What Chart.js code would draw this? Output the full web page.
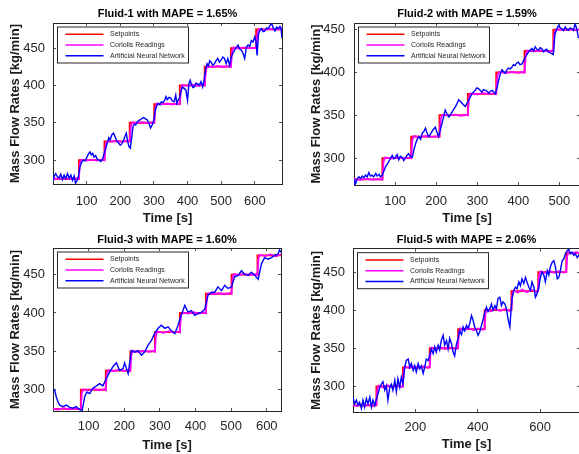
<!DOCTYPE html>
<html>
<head>
<meta charset="utf-8">
<script src="https://cdn.jsdelivr.net/npm/chart.js@4"></script>
<style>
  html, body { margin: 0; padding: 0; background: #fff; overflow: hidden; width: 579px; height: 454px; }
  canvas { position: absolute; }
</style>
</head>
<body>
<canvas id="c1" width="290" height="227" style="left:0;top:0"></canvas>
<canvas id="c2" width="300" height="227" style="left:290px;top:0"></canvas>
<canvas id="c3" width="290" height="227" style="left:0;top:227px"></canvas>
<canvas id="c4" width="300" height="227" style="left:290px;top:227px"></canvas>
<script>
// ---- data (time [s], mass flow [kg/min]) ----
const seriesLabels = ['Setpoints', 'Coriolis Readings', 'Artificial Neural Network'];
const titles = ['Fluid-1 with MAPE = 1.65%', 'Fluid-2 with MAPE = 1.59%', 'Fluid-3 with MAPE = 1.60%', 'Fluid-5 with MAPE = 2.06%'];
const yTicks = [300, 350, 400, 450];
const xTicks1 = [100, 200, 300, 400, 500, 600];
const xTicks2 = [100, 200, 300, 400, 500];
const xTicks3 = [100, 200, 300, 400, 500, 600];
const xTicks4 = [200, 400, 600];

// Fluid-1
const set1 = [[0,275],[77,300],[153,325],[228,350],[301,375],[377,400],[451,425],[529,450],[604,475],[681,475]];
const cor1 = [[0,275.4],[15,274.6],[30,275.8],[45,274.9],[60,275.5],[77,274.8],[80,296],[84,300.6],[100,299.4],[115,300.7],[130,299.2],[145,300.5],[153,299.6],[157,322],[161,325.4],[175,324.6],[190,325.8],[205,324.5],[220,325.6],[228,324.9],[232,346],[236,350.5],[250,349.4],[265,350.8],[280,349.6],[295,350.4],[301,349.7],[305,371],[309,375.6],[325,374.5],[340,375.7],[355,374.4],[370,375.5],[377,374.8],[381,396],[385,400.6],[400,399.3],[415,400.8],[430,399.5],[445,400.6],[451,399.8],[455,421],[459,425.5],[475,424.4],[490,425.9],[505,424.6],[520,425.7],[529,424.8],[533,446],[537,450.6],[555,449.4],[570,450.8],[585,449.5],[600,450.3],[604,449.7],[608,471],[612,475.5],[630,474.3],[645,475.8],[660,474.6],[681,475.4]];
const ann1 = [[0,272],[4,279],[8,282],[13,278],[18,276],[23,281],[28,274],[33,280],[38,275],[43,282],[48,276],[53,280],[58,273],[63,279],[67,269],[71,272],[76,279],[80,291],[85,297],[90,300],[95,299],[100,303],[105,308],[110,311],[114,307],[118,309],[122,304],[127,306],[132,301],[137,300],[142,298],[147,301],[152,309],[157,316],[161,322],[166,330],[170,327],[175,334],[180,336],[185,331],[190,325],[195,323],[200,320],[205,322],[210,327],[215,333],[218,336],[222,325],[226,318],[230,316],[234,330],[238,345],[242,348],[246,347],[250,351],[255,353],[260,354],[265,356],[270,357],[275,355],[280,354],[285,350],[290,343],[295,347],[300,354],[304,367],[308,372],[313,376],[318,374],[322,378],[327,377],[332,380],[336,385],[340,381],[345,384],[350,383],[355,379],[360,378],[365,387],[368,376],[372,380],[376,383],[380,391],[385,398],[390,396],[395,394],[400,380],[404,402],[408,407],[412,401],[416,397],[420,398],[425,403],[430,402],[435,400],[440,405],[445,398],[450,409],[454,422],[458,429],[462,426],[466,433],[470,431],[475,427],[480,429],[485,433],[490,436],[495,431],[500,434],[505,438],[510,436],[515,429],[520,436],[525,427],[530,438],[535,443],[540,447],[545,451],[550,454],[555,449],[560,447],[565,443],[570,436],[575,451],[580,454],[585,452],[590,460],[595,458],[600,465],[604,458],[607,440],[611,469],[616,474],[620,476],[625,472],[630,473],[635,477],[640,476],[645,480],[650,483],[655,477],[660,473],[665,478],[670,476],[675,479],[678,477],[681,463]];

// Fluid-2
const set2 = [[0,275],[69,300],[139,325],[208,350],[277,375],[346,400],[415,425],[485,450],[550,450]];
const cor2 = [[0,275.3],[15,274.5],[30,275.6],[45,274.7],[60,275.4],[69,274.8],[72,296],[76,300.5],[90,299.4],[105,300.6],[120,299.5],[135,300.4],[139,299.7],[142,321],[146,325.6],[160,324.4],[175,325.7],[190,324.6],[204,325.5],[208,324.8],[211,346],[215,350.4],[230,349.5],[245,350.7],[260,349.4],[274,350.5],[277,349.8],[280,371],[284,375.5],[300,374.5],[315,375.8],[330,374.6],[343,375.4],[346,374.9],[349,396],[353,400.4],[370,399.4],[385,400.7],[400,399.6],[412,400.5],[415,399.8],[418,421],[422,425.6],[440,424.5],[455,425.8],[470,424.6],[482,425.3],[485,424.9],[488,446],[492,450.4],[510,449.3],[525,450.6],[540,449.5],[550,450.2]];
const ann2 = [[0,275],[2,269],[4,270],[8,276],[12,278],[16,276],[20,279],[24,277],[28,280],[32,278],[36,283],[40,279],[44,280],[48,278],[53,282],[56,279],[61,281],[64,278],[69,280],[72,284],[77,290],[81,293],[85,296],[89,300],[93,303],[97,299],[101,301],[105,304],[109,298],[113,302],[117,301],[121,297],[125,300],[129,303],[133,305],[137,302],[142,301],[145,308],[150,317],[154,322],[158,325],[162,322],[166,329],[170,331],[174,335],[178,329],[182,325],[186,328],[190,331],[194,334],[198,336],[202,330],[206,325],[210,333],[214,340],[218,348],[222,356],[226,352],[231,348],[235,351],[239,354],[243,357],[247,360],[251,364],[255,368],[259,366],[263,364],[267,362],[271,360],[275,364],[279,368],[283,371],[287,375],[291,377],[295,379],[299,382],[303,381],[307,379],[311,377],[315,380],[320,379],[324,378],[328,376],[332,378],[336,379],[340,377],[344,375],[348,382],[352,391],[356,398],[360,403],[364,401],[368,399],[372,403],[376,405],[380,404],[384,406],[388,409],[392,408],[396,411],[400,412],[404,409],[409,410],[413,414],[417,418],[421,421],[425,424],[429,426],[433,428],[437,425],[441,430],[445,427],[449,426],[453,429],[457,428],[461,424],[465,426],[469,427],[473,424],[477,423],[481,422],[485,421],[489,445],[493,450],[498,455],[502,452],[506,451],[510,449],[514,453],[518,450],[522,449],[526,452],[530,451],[534,449],[538,457],[542,451],[546,441],[550,440]];

// Fluid-3
const set3 = [[0,275],[78,300],[148,325],[217,350],[286,375],[356,400],[429,425],[501,450],[574,475],[640,475]];
const cor3 = [[0,275.2],[15,274.3],[30,275.9],[45,274.6],[60,275.8],[74,274.4],[78,275],[81,296],[85,300.4],[100,299.1],[115,301],[130,299.3],[145,300.8],[148,299.5],[151,321],[155,325.7],[170,324.2],[185,326],[200,324.5],[214,325.8],[217,324.6],[220,346],[224,350.6],[240,349.2],[255,351],[270,349.4],[283,350.7],[286,349.6],[289,371],[293,375.8],[310,374.1],[325,376.2],[340,374.3],[353,375.9],[356,374.8],[359,396],[363,400.5],[380,399.2],[395,401],[410,399.3],[425,400.6],[429,399.6],[432,421],[436,425.6],[450,424.3],[465,425.9],[480,424.4],[497,425.7],[501,424.8],[504,446],[508,450.7],[522,449.2],[537,450.9],[552,449.3],[570,450.6],[574,449.6],[577,471],[581,475.8],[595,474.0],[610,476.3],[625,473.8],[640,475.9]];
const ann3 = [[0,300],[5,299],[9,291],[14,284],[19,280],[28,278],[37,280],[47,277],[56,276],[65,278],[75,274],[82,273],[89,291],[95,297],[103,295],[112,302],[122,305],[131,308],[140,305],[150,315],[159,323],[168,330],[178,335],[187,325],[197,328],[201,335],[211,321],[220,351],[229,349],[239,351],[248,345],[257,349],[267,358],[276,364],[285,373],[295,380],[304,384],[314,380],[323,382],[332,377],[342,373],[351,384],[360,397],[370,410],[379,401],[388,403],[398,397],[407,399],[417,401],[426,405],[435,423],[445,427],[454,427],[463,434],[473,429],[482,436],[491,432],[501,434],[510,447],[520,449],[529,455],[538,450],[548,449],[557,453],[566,449],[576,444],[585,464],[594,472],[604,470],[613,472],[622,475],[632,477],[636,482],[640,479]];

// Fluid-5
const set4 = [[0,275],[75,300],[160,325],[246,350],[337,375],[422,400],[508,425],[594,450],[684,475],[728,475]];
const cor4 = [[0,275.6],[12,274.1],[25,276.2],[38,274.3],[50,275.9],[62,274.2],[75,275.4],[78,296],[82,300.8],[95,298.9],[110,301.4],[125,299.1],[140,301.2],[155,299.3],[160,300.2],[163,321],[167,325.9],[180,324.0],[195,326.3],[210,324.2],[225,326.1],[240,324.4],[246,325.3],[249,346],[253,350.8],[265,349.0],[280,351.3],[295,349.1],[310,351.0],[325,349.3],[337,350.4],[340,371],[344,375.9],[357,374.0],[372,376.4],[387,373.8],[402,376.1],[416,374.3],[422,375.2],[425,396],[429,400.9],[442,398.6],[457,401.9],[472,398.8],[487,401.6],[502,399.0],[508,400.3],[511,421],[515,425.8],[528,423.2],[543,426.9],[558,423.4],[573,426.5],[588,423.8],[594,425.2],[597,446],[601,450.8],[615,449.0],[630,451.3],[645,448.9],[660,451.1],[677,449.2],[684,450.3],[687,471],[691,475.7],[703,474.1],[716,476.2],[728,474.4]];
const ann4 = [[0,286],[5,277],[11,282],[16,275],[21,279],[27,271],[32,282],[37,273],[43,284],[48,277],[54,286],[59,273],[64,282],[70,275],[75,284],[80,290],[86,299],[91,303],[96,306],[102,295],[107,301],[112,282],[118,299],[123,303],[128,295],[134,308],[139,293],[144,310],[150,299],[155,312],[160,303],[166,325],[171,334],[177,336],[182,325],[187,330],[193,321],[198,327],[203,319],[209,330],[214,323],[219,327],[225,317],[230,325],[235,336],[241,334],[246,341],[251,349],[257,343],[262,352],[267,345],[273,354],[278,348],[283,360],[289,367],[294,354],[300,360],[305,349],[310,363],[316,356],[321,345],[326,340],[332,356],[337,363],[342,373],[348,368],[353,378],[358,373],[364,380],[369,376],[374,382],[380,393],[385,387],[390,378],[396,373],[401,367],[406,371],[412,380],[417,387],[423,398],[428,404],[433,398],[439,402],[444,408],[449,400],[455,406],[460,402],[465,415],[471,417],[476,406],[481,411],[487,408],[492,402],[497,389],[503,378],[506,395],[510,415],[516,426],[521,430],[526,428],[532,437],[537,432],[542,441],[548,435],[553,443],[558,437],[564,430],[569,426],[574,437],[580,430],[585,417],[590,421],[596,430],[601,443],[606,450],[612,446],[617,437],[623,452],[628,446],[633,457],[639,463],[644,465],[649,457],[655,441],[660,443],[665,452],[671,465],[676,467],[681,474],[687,478],[692,480],[697,474],[703,476],[708,472],[713,474],[719,469],[724,472],[728,470]];

const xRanges = [[0, 681], [0, 550], [0, 640], [0, 728]];
const yRanges = [[268, 483.5], [268.5, 457.7], [272.3, 484.6], [266.4, 480.6]];

// ---- layout per panel ----
const layouts = [
  { yW: 53, xH: 43, padR: 8,  tTop: 7.8, tBot: 2.0, xTick: 12.2, xTitle: 0.5, yTitle: 7.2,  yTick: 11 },
  { yW: 64, xH: 42, padR: 10, tTop: 7.8, tBot: 2.0, xTick: 11.9, xTitle: 0.5, yTitle: 18.9, yTick: 12 },
  { yW: 53, xH: 43, padR: 9,  tTop: 6.7, tBot: 1.1, xTick: 10.9, xTitle: 1.2, yTitle: 7.9,  yTick: 11 },
  { yW: 63, xH: 42, padR: 10, tTop: 6.2, tBot: 2.3, xTick: 10.2, xTitle: 1.4, yTitle: 18.2, yTick: 11 }
];

const FONT = '"Liberation Sans", Arial, Helvetica, sans-serif';
const INK = '#262626';
Chart.defaults.font.family = FONT;
Chart.defaults.color = INK;

const toXY = arr => arr.map(([x, y]) => ({ x, y }));

// legend drawn inside the axes, like the matlab box legend
const boxLegend = {
  id: 'boxLegend',
  afterDraw(chart) {
    const { ctx, chartArea } = chart;
    const x = chartArea.left + 4, y = chartArea.top + 3.5, w = 132, h = 37;
    ctx.save();
    ctx.fillStyle = '#fff';
    ctx.fillRect(x, y, w, h);
    ctx.strokeStyle = INK;
    ctx.lineWidth = 1;
    ctx.strokeRect(x + 0.5, y + 0.5, w - 1, h - 1);
    ctx.font = '7px ' + FONT;
    ctx.textBaseline = 'middle';
    chart.data.datasets.forEach((ds, i) => {
      const ly = y + 7.7 + i * 10.8;
      ctx.strokeStyle = ds.borderColor;
      ctx.lineWidth = 1.5;
      ctx.beginPath();
      ctx.moveTo(x + 8.5, ly);
      ctx.lineTo(x + 46.5, ly);
      ctx.stroke();
      ctx.fillStyle = INK;
      ctx.fillText(ds.label, x + 53, ly);
    });
    ctx.restore();
  }
};

const panels = [
  { id: 'c1', set: set1, cor: cor1, ann: ann1, xTicks: xTicks1 },
  { id: 'c2', set: set2, cor: cor2, ann: ann2, xTicks: xTicks2 },
  { id: 'c3', set: set3, cor: cor3, ann: ann3, xTicks: xTicks3 },
  { id: 'c4', set: set4, cor: cor4, ann: ann4, xTicks: xTicks4 }
];

panels.forEach((p, i) => {
  const L = layouts[i];
  const tickGrid = { display: true, drawOnChartArea: false, drawTicks: true, tickLength: -3, tickColor: INK, tickWidth: 0.8 };
  const border = { display: true, color: INK, width: 1 };
  const setX = s => { s.ticks = p.xTicks.map(v => ({ value: v })); };
  const setY = s => { s.ticks = yTicks.map(v => ({ value: v })); };

  new Chart(document.getElementById(p.id), {
    type: 'line',
    data: {
      datasets: [
        { label: seriesLabels[0], data: toXY(p.set), borderColor: '#ff0000', borderWidth: 1.8, stepped: true, pointRadius: 0, order: 3 },
        { label: seriesLabels[1], data: toXY(p.cor), borderColor: '#ff00ff', borderWidth: 1.8, pointRadius: 0, order: 2 },
        { label: seriesLabels[2], data: toXY(p.ann), borderColor: '#0000ff', borderWidth: 1.4, pointRadius: 0, order: 1 }
      ]
    },
    options: {
      responsive: false,
      animation: false,
      layout: { padding: { left: 0, right: L.padR, top: 0, bottom: 0 } },
      plugins: {
        legend: { display: false },
        tooltip: { enabled: false },
        title: {
          display: true,
          text: titles[i],
          fullSize: false,
          color: '#000',
          font: { size: 11, weight: 'bold' },
          padding: { top: L.tTop, bottom: L.tBot }
        }
      },
      scales: {
        x: {
          type: 'linear', position: 'bottom',
          min: xRanges[i][0], max: xRanges[i][1],
          afterBuildTicks: setX,
          afterFit: s => { s.height = L.xH; },
          ticks: { padding: L.xTick, font: { size: 13 }, color: INK, maxRotation: 0, autoSkip: false },
          grid: tickGrid, border,
          title: { display: true, text: 'Time [s]', color: '#1a1a1a', font: { size: 13, weight: 'bold' }, padding: { top: 0, bottom: L.xTitle } }
        },
        x2: {
          type: 'linear', position: 'top',
          min: xRanges[i][0], max: xRanges[i][1],
          afterBuildTicks: setX,
          afterFit: s => { s.height = 0; },
          ticks: { display: false },
          grid: tickGrid, border
        },
        y: {
          type: 'linear', position: 'left',
          min: yRanges[i][0], max: yRanges[i][1],
          afterBuildTicks: setY,
          afterFit: s => { s.width = L.yW; },
          ticks: { padding: L.yTick, font: { size: 13 }, color: INK },
          grid: tickGrid, border,
          title: { display: true, text: 'Mass Flow Rates [kg/min]', color: '#1a1a1a', font: { size: 13, weight: 'bold' }, padding: { top: L.yTitle, bottom: 0 } }
        },
        y2: {
          type: 'linear', position: 'right',
          min: yRanges[i][0], max: yRanges[i][1],
          afterBuildTicks: setY,
          afterFit: s => { s.width = 0; },
          ticks: { display: false },
          grid: tickGrid, border
        }
      }
    },
    plugins: [boxLegend]
  });
});
</script>
</body>
</html>
